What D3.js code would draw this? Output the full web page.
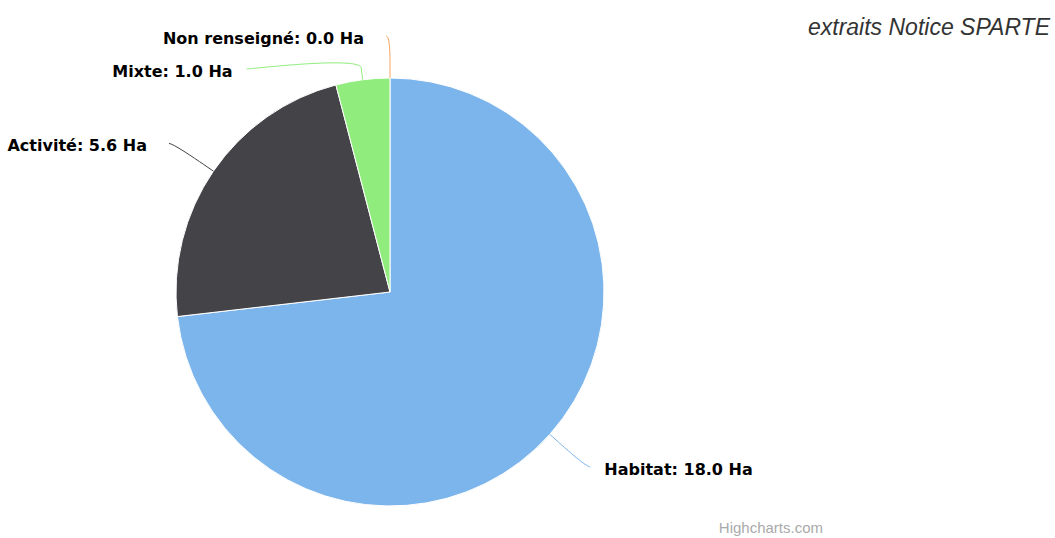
<!DOCTYPE html>
<html lang="en">
<head>
<meta charset="UTF-8">
<script src="https://cdn.jsdelivr.net/npm/d3@7/dist/d3.min.js"></script>
<title>pie</title>
<style>
    body { margin: 0; background: #fff; }
    text.label { font-family: "DejaVu Sans", sans-serif; font-size: 16px; font-weight: bold; fill: #000; }
    text.title { font-family: "Liberation Sans", Arial, sans-serif; font-size: 23px; font-style: italic; fill: #333; }
    text.credit { font-family: "Liberation Sans", Arial, sans-serif; font-size: 15px; fill: #aaa; }
</style>
</head>
<body>
<div id="chart"></div>
<script>
    // data
    var categories = ["Habitat", "Activité", "Mixte", "Non renseigné"];
    var values = [18.0, 5.6, 1.0, 0.0];
    var colors = ["#7cb5ec", "#434348", "#90ed7d", "#f7a35c"];
    var unit = "Ha";

    var width = 1055, height = 538;
    var cx = 390, cy = 292, r = 214;
    var labelR = r + 49;

    var svg = d3.select("#chart").append("svg")
        .attr("width", width)
        .attr("height", height);

    var pie = d3.pie().sort(null).value(function(d) { return d.v; });
    var arcs = pie(categories.map(function(c, i) { return {name: c, v: values[i], color: colors[i]}; }));

    var arc = d3.arc().innerRadius(0).outerRadius(r);

    var g = svg.append("g").attr("transform", "translate(" + cx + "," + cy + ")");

    g.selectAll("path.slice")
        .data(arcs.filter(function(d) { return d.data.v > 0; }))
        .enter()
        .append("path")
        .attr("class", "slice")
        .attr("d", arc)
        .attr("fill", function(d) { return d.data.color; })
        .attr("stroke", "#fff")
        .attr("stroke-width", 1)
        .attr("stroke-linejoin", "round");

    // label layout (rough highcharts-like: push overlapping labels down)
    var labels = arcs.map(function(d) {
        var a = (d.startAngle + d.endAngle) / 2;
        return {d: d, a: a, left: a > Math.PI, y: cy - labelR * Math.cos(a), moved: false};
    });

    [true, false].forEach(function(side) {
        var list = labels.filter(function(l) { return l.left === side; })
            .sort(function(p, q) { return p.y - q.y; });
        var prev = -Infinity;
        list.forEach(function(l) {
            if (l.y < prev + 33) { l.y = prev + 33; l.moved = true; }
            l.y = Math.max(l.y, 36);
            prev = l.y;
        });
    });

    labels.forEach(function(l) {
        var s = Math.sin(l.a), c = Math.cos(l.a);
        if (l.moved) {
            var dy = l.y - cy;
            var dx = Math.sqrt(Math.max(labelR * labelR - dy * dy, 0));
            l.x = l.left ? cx - dx : cx + dx;
        } else {
            l.x = cx + labelR * s;
        }
        l.x3 = cx + r * s; l.y3 = cy - r * c;
        l.x2 = cx + (r + 12) * s; l.y2 = cy - (r + 12) * c;
    });

    svg.selectAll("path.connector")
        .data(labels)
        .enter()
        .append("path")
        .attr("class", "connector")
        .attr("fill", "none")
        .attr("stroke", function(l) { return l.d.data.color; })
        .attr("stroke-width", 1)
        .attr("d", function(l) {
            var p = d3.path();
            var sx = l.left ? l.x - 4 : l.x + 4;
            p.moveTo(sx, l.y);
            p.bezierCurveTo(l.x, l.y, 2 * l.x2 - l.x3, 2 * l.y2 - l.y3, l.x2, l.y2);
            p.lineTo(l.x3, l.y3);
            return p.toString();
        });

    svg.selectAll("text.label")
        .data(labels)
        .enter()
        .append("text")
        .attr("class", "label")
        .attr("x", function(l) { return l.left ? l.x - (l.moved ? 18 : 26) : l.x + 18; })
        .attr("y", function(l) { return l.y + 2; })
        .attr("dy", "0.35em")
        .attr("text-anchor", function(l) { return l.left ? "end" : "start"; })
        .text(function(l) { return l.d.data.name + ": " + l.d.data.v.toFixed(1) + " " + unit; });

    svg.append("text")
        .attr("class", "title")
        .attr("x", 1050)
        .attr("y", 35)
        .attr("text-anchor", "end")
        .text("extraits Notice SPARTE");

    svg.append("text")
        .attr("class", "credit")
        .attr("x", 823)
        .attr("y", 533)
        .attr("text-anchor", "end")
        .text("Highcharts.com");
</script>
</body>
</html>
